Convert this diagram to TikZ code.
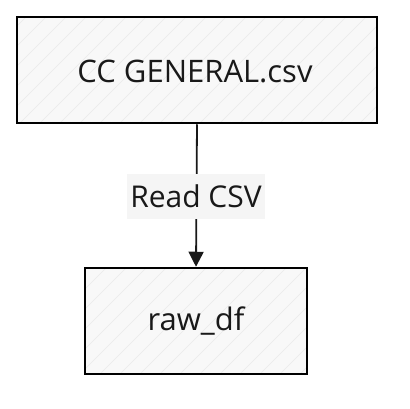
\documentclass[tikz,border=0pt]{standalone}
\usepackage{fontspec}
\setmainfont{Open Sans}
\usetikzlibrary{arrows.meta}
\definecolor{boxfill}{HTML}{F8F8F8}
\definecolor{hatch}{HTML}{EAEAEA}
\definecolor{stroke}{HTML}{333333}
\definecolor{lblbg}{HTML}{F5F5F5}
\tikzset{
  boxstyle/.style={draw=stroke, line width=2.5pt, fill=boxfill, inner sep=0pt},
  txt/.style={font=\fontsize{31}{36}\selectfont, text=black!90},
  lbl/.style={fill=lblbg, inner sep=0pt, minimum width=138pt, minimum height=45pt, font=\fontsize{30}{36}\selectfont, text=black!90},
  conn/.style={draw=black!90, line width=1.8pt, -{Triangle[length=15pt,width=15pt]}}
}
\begin{document}
\begin{tikzpicture}[x=1pt,y=-1pt]
\useasboundingbox (0,0) rectangle (410,408);
\node[boxstyle, minimum width=360pt, minimum height=106pt] (src) at (197,70) {};
\begin{scope}
\clip (17,17) rectangle (377,123);
\foreach \i in {-120,-100,...,380} {\draw[hatch, line width=0.6pt] (\i,123) -- ++(110,-110);}
\end{scope}
\draw[stroke, line width=2.5pt] (17,17) rectangle (377,123);
\node[txt] (srct) at (195,71) {CC GENERAL.csv};
\node[boxstyle, minimum width=222pt, minimum height=106pt] (raw) at (196,321) {};
\begin{scope}
\clip (85,268) rectangle (307,374);
\foreach \i in {-40,-20,...,320} {\draw[hatch, line width=0.6pt] (\i,374) -- ++(110,-110);}
\end{scope}
\draw[stroke, line width=2.5pt] (85,268) rectangle (307,374);
\node[txt] (rawt) at (196,321) {raw\_df};
\draw[conn] (src.south) -- (raw.north);
\node[lbl] (l) at (196,196) {Read CSV};
\end{tikzpicture}
\end{document}
